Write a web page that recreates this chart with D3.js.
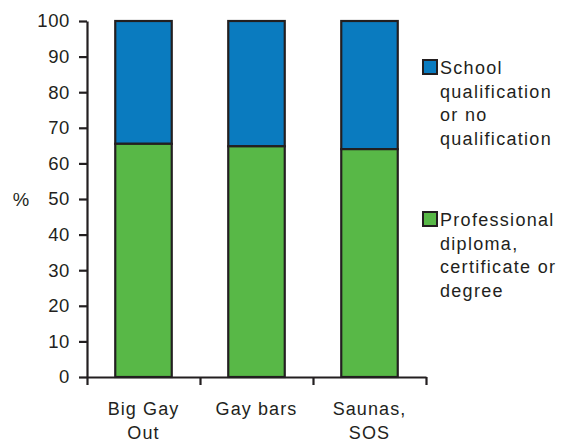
<!DOCTYPE html>
<html><head><meta charset="utf-8">
<script src="https://cdn.jsdelivr.net/npm/d3@7"></script>
<style>body{margin:0;background:#fff}text{font-family:"Liberation Sans",Arial,sans-serif;fill:#231f20}</style>
</head><body><svg id="c" width="563" height="444"></svg>
<script>
const categories = [["Big Gay","Out"],["Gay bars"],["Saunas,","SOS"]];
const professional = [65.5, 64.8, 64.0];
const school = professional.map(v => 100 - v);
const seriesNames = [["School","qualification","or no","qualification"],["Professional","diploma,","certificate or","degree"]];
const seriesColors = ["#0a7bbf", "#58b847"];
const yTicks = [0,10,20,30,40,50,60,70,80,90,100];

const svg = d3.select("#c");
const ink = "#231f20";
const x = d3.scaleBand().domain(d3.range(categories.length)).range([87, 426]).paddingInner(0.5).paddingOuter(0.25);
const y = d3.scaleLinear().domain([0,100]).range([377, 21]);

// bars
const g = svg.append("g");
categories.forEach((c,i) => {
  g.append("rect").attr("x", x(i)).attr("width", x.bandwidth())
    .attr("y", y(100)).attr("height", y(professional[i]) - y(100))
    .attr("fill", seriesColors[0]).attr("stroke", ink).attr("stroke-width", 2.2);
  g.append("rect").attr("x", x(i)).attr("width", x.bandwidth())
    .attr("y", y(professional[i])).attr("height", y(0) - y(professional[i]))
    .attr("fill", seriesColors[1]).attr("stroke", ink).attr("stroke-width", 2.2);
});

// y axis
const ya = svg.append("g").attr("transform","translate(87,0)")
  .call(d3.axisLeft(y).tickValues(yTicks).tickSize(8).tickPadding(9).tickSizeOuter(0));
ya.select(".domain").attr("stroke", ink).attr("stroke-width", 2.2);
ya.selectAll(".tick line").attr("stroke", ink).attr("stroke-width", 2.2);
ya.selectAll(".tick text").style("font-size","18.5px").attr("fill", ink).style("letter-spacing","0.6px");

// x axis with ticks at band boundaries
const xb = d3.scaleLinear().domain([0,3]).range([87,426]);
const xa = svg.append("g").attr("transform","translate(0,377)")
  .call(d3.axisBottom(xb).tickValues([0,1,2,3]).tickSize(8).tickFormat("").tickSizeOuter(0));
xa.select(".domain").attr("stroke", ink).attr("stroke-width", 2.2);
xa.selectAll(".tick line").attr("stroke", ink).attr("stroke-width", 2.2);

// category labels
categories.forEach((lines,i) => {
  const t = svg.append("text").attr("text-anchor","middle").style("font-size","18px").style("letter-spacing","1.1px");
  lines.forEach((l,j) => t.append("tspan").attr("x", x(i) + x.bandwidth()/2).attr("y", 415 + j*24).text(l));
});

// % label
svg.append("text").attr("x", 21).attr("y", 206).attr("text-anchor","middle").style("font-size","18.5px").text("%");

// legend
const legY = [60, 212];
seriesNames.forEach((lines,k) => {
  svg.append("rect").attr("x", 423).attr("y", legY[k]).attr("width", 14).attr("height", 14)
    .attr("fill", seriesColors[k]).attr("stroke", ink).attr("stroke-width", 2);
  const t = svg.append("text").style("font-size","18px").style("letter-spacing","1.3px");
  lines.forEach((l,j) => t.append("tspan").attr("x", 440).attr("y", legY[k] + 14 + j*23.7).text(l));
});
</script></body></html>
